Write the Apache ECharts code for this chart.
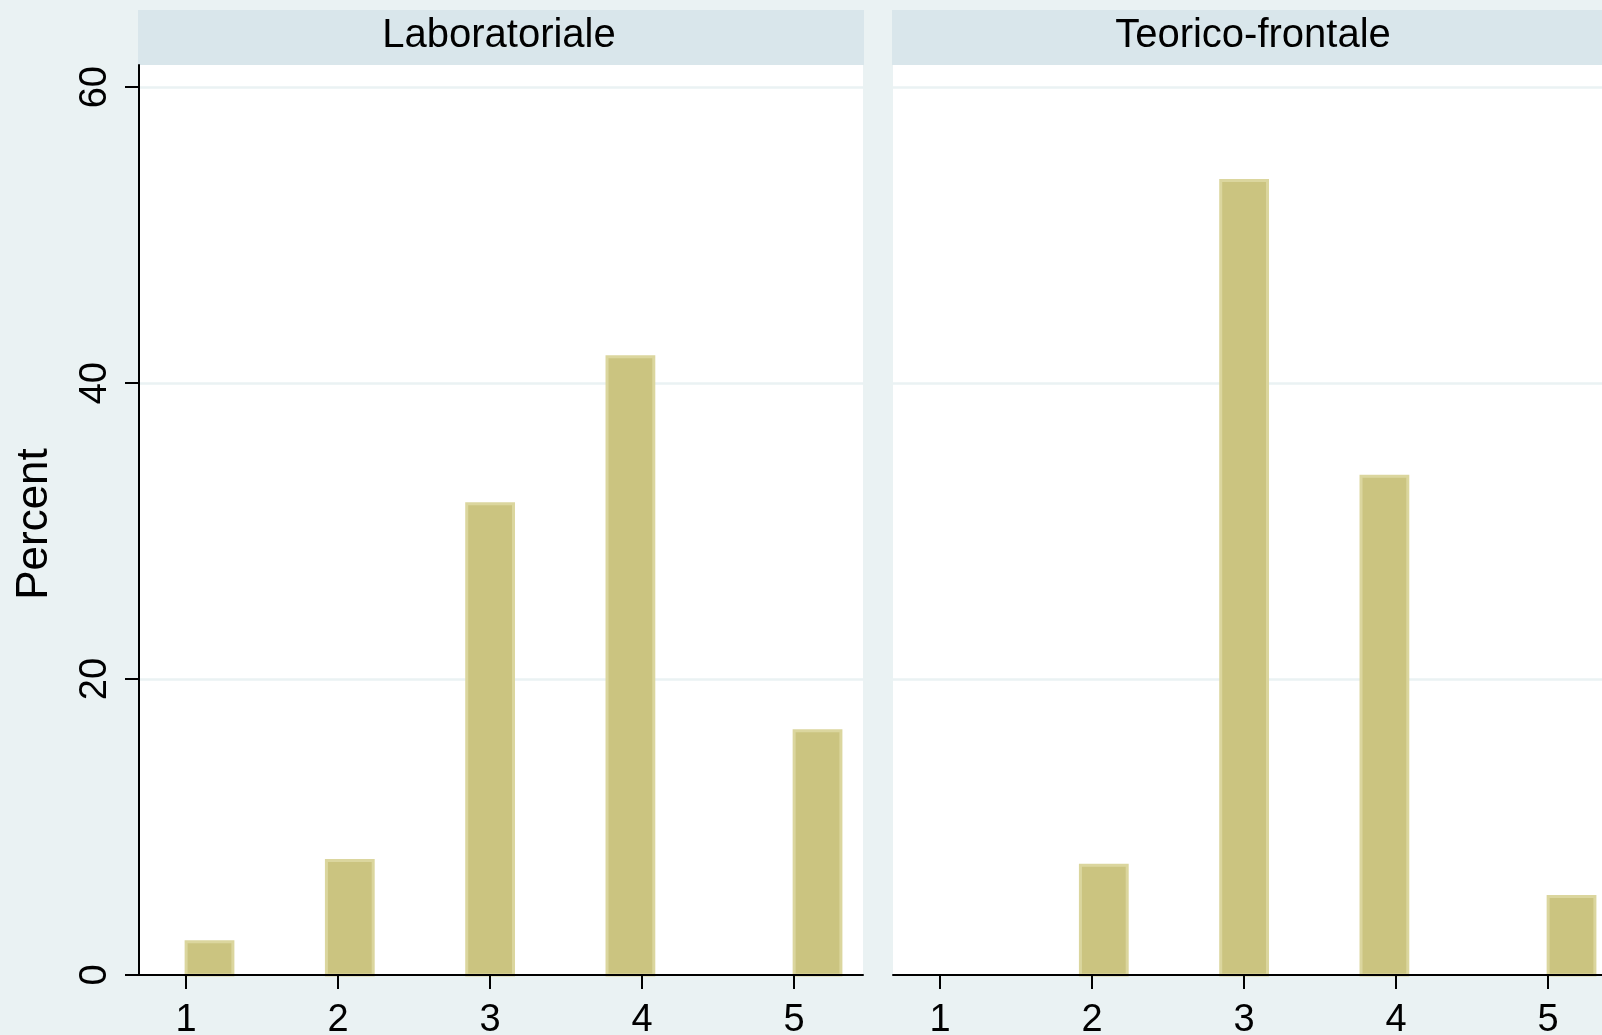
<!DOCTYPE html>
<html><head><meta charset="utf-8">
<script src="https://cdn.jsdelivr.net/npm/echarts@6/dist/echarts.min.js"></script>
<style>html,body{margin:0;padding:0;background:#eaf2f3;overflow:hidden}#c{width:1602px;height:1035px}</style>
</head><body><div id="c"></div>
<script>
// ---- data ----
const categories = [1, 2, 3, 4, 5];
const panelTitles = ['Laboratoriale', 'Teorico-frontale'];
const binStart = [1.0, 1.923, 2.846, 3.769, 5.0];   // histogram bin left edges
const binWidth = 0.3077;
const pctLaboratoriale = [2.24, 7.74, 31.85, 41.78, 16.51];
const pctTeorico = [0, 7.42, 53.70, 33.70, 5.30];
const yTicks = [0, 20, 40, 60];
const xTicks = [1, 2, 3, 4, 5];
const yTitle = 'Percent';

// ---- chart ----
const FONT = "'Liberation Sans', Arial, Helvetica, sans-serif";
const chart = echarts.init(document.getElementById('c'), null, {renderer: 'canvas'});

function toData(pcts) {
  return binStart.map((s, i) => [s, s + binWidth, pcts[i]]);
}
function renderBar(params, api) {
  const x0 = api.value(0), x1 = api.value(1), y = api.value(2);
  if (!y) return null;
  const p0 = api.coord([x0, y]);
  const p1 = api.coord([x1, 0]);
  return {
    type: 'rect',
    shape: {x: p0[0], y: p0[1], width: p1[0] - p0[0], height: p1[1] - p0[1]},
    style: {fill: '#cbc480', stroke: '#dbd69e', lineWidth: 3}
  };
}

function xAxisCfg(idx) {
  return {
    gridIndex: idx, type: 'value', min: 0.69, max: 5.453, z: 5,
    axisLine: {show: true, onZero: false, lineStyle: {color: '#000', width: 2}},
    axisTick: {show: true, customValues: xTicks, length: 14, lineStyle: {color: '#000', width: 2}},
    axisLabel: {show: true, customValues: xTicks, margin: 27, fontSize: 38, color: '#000', fontFamily: FONT},
    splitLine: {show: false}
  };
}
function yAxisCfg(idx, showAxis) {
  return {
    gridIndex: idx, type: 'value', min: 0, max: 61.5,
    axisLine: {show: showAxis, lineStyle: {color: '#000', width: 2}},
    axisTick: {show: showAxis, customValues: yTicks, length: 14, lineStyle: {color: '#000', width: 2}},
    axisLabel: {show: showAxis, customValues: yTicks, rotate: 90, margin: 24, fontSize: 38, color: '#000', fontFamily: FONT},
    splitLine: {show: true, lineStyle: {color: '#eaf2f3', width: 2.5}}
  };
}

const option = {
  backgroundColor: '#eaf2f3',
  animation: false,
  grid: [
    {left: 139, width: 724, top: 65, bottom: 60, show: true, backgroundColor: '#ffffff', borderWidth: 0, containLabel: false, outerBoundsMode: 'none'},
    {left: 893, width: 724, top: 65, bottom: 60, show: true, backgroundColor: '#ffffff', borderWidth: 0, containLabel: false, outerBoundsMode: 'none'}
  ],
  xAxis: [xAxisCfg(0), xAxisCfg(1)],
  yAxis: [yAxisCfg(0, true), yAxisCfg(1, false)],
  graphic: [
    {type: 'rect', shape: {x: 138, y: 10, width: 726, height: 55}, style: {fill: '#d9e6eb'}},
    {type: 'rect', shape: {x: 892, y: 10, width: 726, height: 55}, style: {fill: '#d9e6eb'}},
    {type: 'text', x: 499, y: 36, style: {text: panelTitles[0], fontSize: 40, fontFamily: FONT, fill: '#000', align: 'center', verticalAlign: 'middle'}},
    {type: 'text', x: 1253, y: 36, style: {text: panelTitles[1], fontSize: 40, fontFamily: FONT, fill: '#000', align: 'center', verticalAlign: 'middle'}},
    {type: 'text', x: 34.5, y: 524, rotation: Math.PI / 2, style: {text: yTitle, fontSize: 44, fontFamily: FONT, fill: '#000', align: 'center', verticalAlign: 'middle'}}
  ],
  series: [
    {type: 'custom', xAxisIndex: 0, yAxisIndex: 0, renderItem: renderBar, data: toData(pctLaboratoriale), encode: {x: [0, 1], y: 2}},
    {type: 'custom', xAxisIndex: 1, yAxisIndex: 1, renderItem: renderBar, data: toData(pctTeorico), encode: {x: [0, 1], y: 2}}
  ]
};
chart.setOption(option);
</script>
</body></html>
